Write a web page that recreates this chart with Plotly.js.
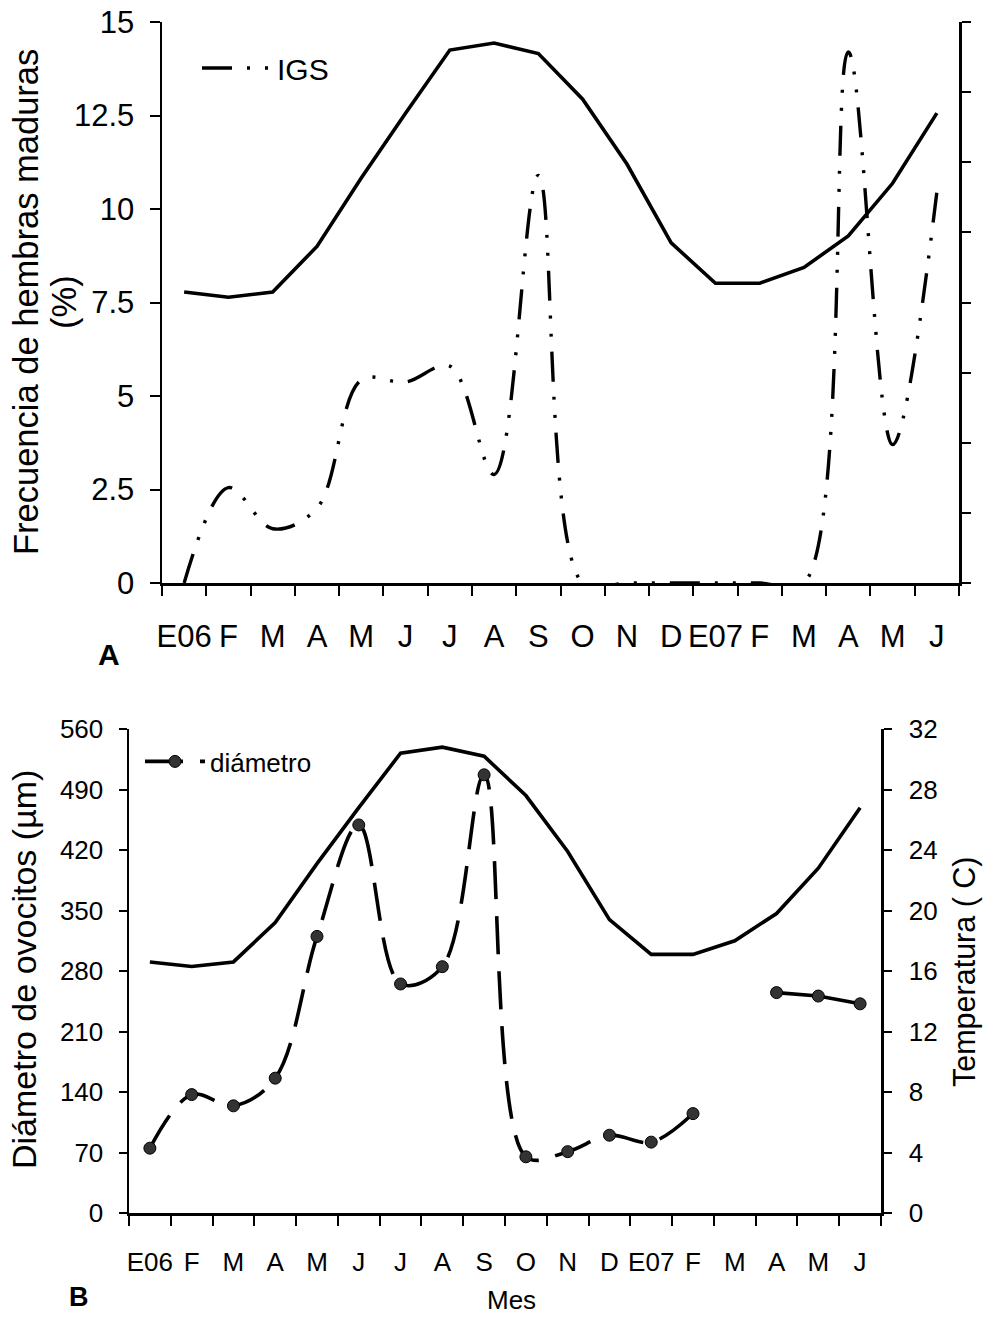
<!DOCTYPE html>
<html>
<head>
<meta charset="utf-8">
<script src="https://cdn.plot.ly/plotly-3.0.1.min.js"></script>
<style>html,body{margin:0;padding:0;background:#fff;}#chart{width:984px;height:1317px;}</style>
</head>
<body>
<div id="chart"></div>
<script>
// ---- data ----
const meses = ["E06","F","M","A","M","J","J","A","S","O","N","D","E07","F","M","A","M","J"];
const temperatura = [16.6,16.3,16.6,19.2,23.1,26.8,30.4,30.8,30.2,27.6,23.9,19.4,17.1,17.1,18.0,19.8,22.8,26.8];
const igs = [0,2.55,1.45,2.0,5.43,5.37,5.8,2.9,10.9,0,0,0,0,0,0,14.2,3.7,10.45];
const diametro = [75,137,124,156,320,449,265,285,507,65,71,90,82,115,null,255,251,242];

// ---- helpers ----
const W = 984, H = 1317;
const idx = meses.map((_, i) => i);
function hasFont(f){
  const c = document.createElement('canvas').getContext('2d');
  const s = 'mmmmmmmmmmlli0123456789WQ';
  c.font = '40px monospace'; const w0 = c.measureText(s).width;
  c.font = '40px "' + f + '", monospace'; const w1 = c.measureText(s).width;
  return w0 !== w1;
}
const narrow = hasFont('Liberation Sans Narrow');
const FA = '"Liberation Sans", Arial, sans-serif';
const FB = narrow ? '"Liberation Sans Narrow", "Liberation Sans", sans-serif' : FA;
const sizeB = narrow ? 31 : 26;
const px = v => v / W, py = v => 1 - v / H;

const split = 14;
const dRange1 = idx.slice(0, split), d1 = diametro.slice(0, split);
const dRange2 = idx.slice(split + 1), d2 = diametro.slice(split + 1);

const traces = [
  {x: idx, y: temperatura, xaxis: 'x', yaxis: 'y2', mode: 'lines', showlegend: false,
   line: {color: '#000', width: 3.6}},
  {x: idx, y: igs, xaxis: 'x', yaxis: 'y', mode: 'lines', name: 'IGS', legend: 'legend',
   line: {color: '#000', width: 3.4, shape: 'spline', smoothing: 1, dash: '30px,15px,3px,15px,3px,15px'}},
  {x: idx, y: temperatura, xaxis: 'x2', yaxis: 'y4', mode: 'lines', showlegend: false,
   line: {color: '#000', width: 3.6}},
  {x: dRange1, y: d1, xaxis: 'x2', yaxis: 'y3', mode: 'lines+markers', name: 'diámetro', legend: 'legend2',
   line: {color: '#000', width: 3.6, shape: 'spline', smoothing: 1, dash: '38px,17px'},
   marker: {size: 12, color: '#333', line: {color: '#000', width: 1}}},
  {x: dRange2, y: d2, xaxis: 'x2', yaxis: 'y3', mode: 'lines+markers', showlegend: false,
   line: {color: '#000', width: 3.6},
   marker: {size: 12, color: '#333', line: {color: '#000', width: 1}}}
];

const common = {showgrid: false, zeroline: false, showline: true, linecolor: '#000', color: '#000'};
const xCommon = Object.assign({}, common, {
  range: [-0.5, meses.length - 0.5], tickmode: 'array', tickvals: idx, ticktext: meses,
  ticks: '', linewidth: 3,
  minor: {tick0: -0.5, dtick: 1, ticks: 'outside', ticklen: 10, tickwidth: 2, tickcolor: '#000'}
});

const layout = {
  width: W, height: H, margin: {l: 0, r: 0, t: 0, b: 0},
  paper_bgcolor: '#fff', plot_bgcolor: 'rgba(0,0,0,0)',
  font: {family: FA, color: '#000'},
  xaxis: Object.assign({}, xCommon, {domain: [px(162), px(959)], anchor: 'y',
    tickfont: {family: FA, size: 31}, ticklabelstandoff: 24}),
  yaxis: Object.assign({}, common, {domain: [py(583), py(22)], anchor: 'x', range: [0, 15], dtick: 2.5,
    ticks: 'outside', ticklen: 10, tickwidth: 2, linewidth: 2.5,
    tickfont: {family: FA, size: 31}, ticklabelstandoff: 9}),
  yaxis2: Object.assign({}, common, {overlaying: 'y', side: 'right', anchor: 'x', range: [0, 32], dtick: 4,
    ticks: 'outside', ticklen: 9, tickwidth: 2, linewidth: 2.5, showticklabels: false}),
  xaxis2: Object.assign({}, xCommon, {domain: [px(129), px(881)], anchor: 'y3',
    tickfont: {family: FB, size: sizeB}, ticklabelstandoff: 24}),
  yaxis3: Object.assign({}, common, {domain: [py(1213), py(729)], anchor: 'x2', range: [0, 560], dtick: 70,
    ticks: 'outside', ticklen: 8, tickwidth: 2, linewidth: 2.5,
    tickfont: {family: FB, size: sizeB}, ticklabelstandoff: 10}),
  yaxis4: Object.assign({}, common, {overlaying: 'y3', side: 'right', anchor: 'x2', range: [0, 32], dtick: 4,
    ticks: 'outside', ticklen: 8, tickwidth: 2, linewidth: 2.5,
    tickfont: {family: FB, size: sizeB}, ticklabelstandoff: 12}),
  legend: {x: px(197), y: py(42), xanchor: 'left', yanchor: 'top', bgcolor: 'rgba(0,0,0,0)',
    itemwidth: 70, font: {family: FA, size: 30}},
  legend2: {x: px(140), y: py(738), xanchor: 'left', yanchor: 'top', bgcolor: 'rgba(0,0,0,0)',
    itemwidth: 60, font: {family: FB, size: sizeB}},
  annotations: [
    {text: 'Frecuencia de hembras maduras', textangle: -90, xref: 'paper', yref: 'paper',
     x: px(26), y: py(302), xanchor: 'center', yanchor: 'middle', showarrow: false,
     font: {family: FA, size: 34.5}},
    {text: '(%)', textangle: -90, xref: 'paper', yref: 'paper',
     x: px(64), y: py(302), xanchor: 'center', yanchor: 'middle', showarrow: false,
     font: {family: FA, size: 34.5}},
    {text: 'Diámetro de ovocitos (µm)', textangle: -90, xref: 'paper', yref: 'paper',
     x: px(24), y: py(970), xanchor: 'center', yanchor: 'middle', showarrow: false,
     font: {family: FA, size: 34}},
    {text: 'Temperatura ( C)', textangle: -90, xref: 'paper', yref: 'paper',
     x: px(964), y: py(972), xanchor: 'center', yanchor: 'middle', showarrow: false,
     font: {family: FA, size: 30.5}},
    {text: 'Mes', xref: 'paper', yref: 'paper', x: px(511), y: py(1300), xanchor: 'center', yanchor: 'middle',
     showarrow: false, font: {family: FB, size: sizeB}},
    {text: '<b>A</b>', xref: 'paper', yref: 'paper', x: px(109), y: py(636), xanchor: 'center', yanchor: 'top',
     showarrow: false, font: {family: FA, size: 30}},
    {text: '<b>B</b>', xref: 'paper', yref: 'paper', x: px(79), y: py(1297), xanchor: 'center', yanchor: 'middle',
     showarrow: false, font: {family: FA, size: 27}}
  ]
};

Plotly.newPlot('chart', traces, layout, {staticPlot: true, displayModeBar: false});
</script>
</body>
</html>
